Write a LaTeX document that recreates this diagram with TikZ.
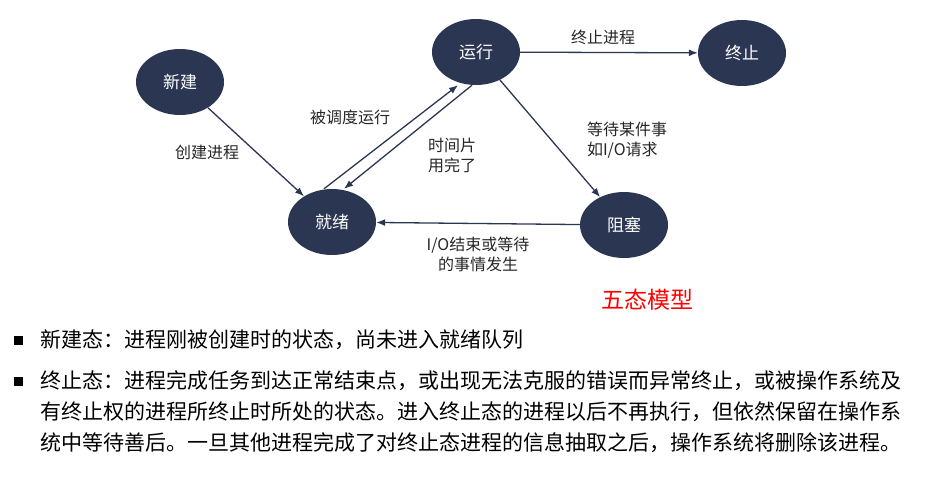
\documentclass[tikz,border=0pt]{standalone}
\usepackage{fontspec}
\setmainfont{Noto Sans CJK SC}
\usetikzlibrary{positioning,arrows.meta,shapes.geometric}
\definecolor{statecol}{HTML}{2B3652}
\begin{document}
\begin{tikzpicture}[x=1pt,y=-1pt,
    state/.style={ellipse, fill=statecol, text=white, minimum width=88pt, minimum height=66pt, font=\fontsize{17}{20}\selectfont},
    arrow/.style={-{Latex[length=9pt,width=7pt]}, line width=1.3pt, statecol},
    lbl/.style={font=\fontsize{16}{20}\selectfont, text=black!85, align=left, inner sep=1pt},
    para/.style={anchor=west, font=\fontsize{21}{24}\selectfont, inner sep=0pt}
]
\useasboundingbox (0,0) rectangle (934,485);
\node[state] (new) at (180,82) {新建};
\node[state] (run) at (476,52) {运行};
\node[state] (term) at (742,53) {终止};
\node[state] (ready) at (332,222) {就绪};
\node[state] (block) at (624,225) {阻塞};

% transitions
\draw[arrow] (new) -- (ready);
\draw[arrow] ([xshift=-8pt]ready.north) -- ([xshift=-18pt]run.south);
\draw[arrow] ([xshift=-4pt]run.south) -- ([xshift=12pt]ready.north);
\draw[arrow] (run) -- (term);
\draw[arrow] (run) -- (block);
\draw[arrow] (block) -- (ready);

% labels
\node[lbl] (l1) at (207,152) {创建进程};
\node[lbl] (l2) at (350,117) {被调度运行};
\node[lbl] (l3) at (452,155) {时间片\\用完了};
\node[lbl] (l4) at (603,37) {终止进程};
\node[lbl] (l5) at (627,140) {等待某件事\\如I/O请求};
\node[lbl, align=center] (l6) at (478,254) {I/O结束或等待\\的事情发生};
\node[text=red, font=\fontsize{23}{26}\selectfont] (title) at (647,300) {五态模型};

% description
\node[fill=black, minimum size=9pt, inner sep=0pt] (b1) at (18,340) {};
\node[fill=black, minimum size=9pt, inner sep=0pt] (b2) at (18,381) {};
\node[para] (p1) at (40,340) {新建态：进程刚被创建时的状态，尚未进入就绪队列};
\node[para] (p2) at (40,381) {终止态：进程完成任务到达正常结束点，或出现无法克服的错误而异常终止，或被操作系统及};
\node[para] (p3) at (40,412) {有终止权的进程所终止时所处的状态。进入终止态的进程以后不再执行，但依然保留在操作系};
\node[para] (p4) at (40,443) {统中等待善后。一旦其他进程完成了对终止态进程的信息抽取之后，操作系统将删除该进程。};
\end{tikzpicture}
\end{document}
